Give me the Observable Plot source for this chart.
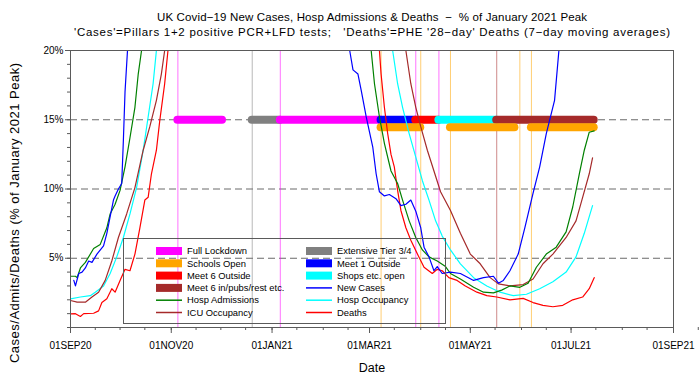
<!DOCTYPE html>
<html><head><meta charset="utf-8">
<script src="https://cdn.jsdelivr.net/npm/d3@7"></script>
<script src="https://cdn.jsdelivr.net/npm/@observablehq/plot@0.6"></script>
<style>body{margin:0;background:#fff}#chart{width:700px;height:380px}</style>
</head><body><div id="chart"></div>
<script>
// ---------- DATA (% of January 2021 peak) ----------
const titleText = "UK Covid\u221219 New Cases, Hosp Admissions & Deaths  \u2212  % of January 2021 Peak";
const subtitleText = "'Cases'=Pillars 1+2 positive PCR+LFD tests;   'Deaths'=PHE '28\u2212day' Deaths (7\u2212day moving averages)";
const yLabel = "Cases/Admits/Deaths (% of January 2021 Peak)";
const xLabel = "Date";

const majorTickDates = ["2020-09-01","2020-11-01","2021-01-01","2021-03-01","2021-05-01","2021-07-01","2021-09-01"];
const yTickValues = [5, 10, 15, 20];
const gridLevels = [5, 10, 15];

const newCases = [["2020-09-03",3.4],["2020-09-04",3.0],["2020-09-06",3.9],["2020-09-08",4.0],["2020-09-10",4.3],["2020-09-12",4.8],["2020-09-14",4.7],["2020-09-17",5.3],["2020-09-21",5.9],["2020-09-23",6.8],["2020-09-25",8.0],["2020-09-27",9.2],["2020-09-28",9.5],["2020-09-30",10.0],["2020-10-02",10.4],["2020-10-03",13.5],["2020-10-04",17.0],["2020-10-06",21],["2020-10-10",28],["2020-10-20",45],["2020-11-01",60],["2020-11-12",68],["2020-11-25",45],["2020-12-05",38],["2020-12-15",55],["2020-12-29",95],["2021-01-08",100],["2021-01-20",70],["2021-02-01",45],["2021-02-10",28],["2021-02-17",20],["2021-02-19",18.6],["2021-02-22",18.3],["2021-02-24",17.1],["2021-02-27",15.2],["2021-03-03",13.0],["2021-03-05",11.1],["2021-03-07",9.8],["2021-03-10",9.5],["2021-03-13",9.6],["2021-03-17",9.3],["2021-03-20",8.8],["2021-03-23",8.9],["2021-03-26",9.2],["2021-03-29",8.4],["2021-04-01",7.2],["2021-04-03",5.8],["2021-04-06",5.1],["2021-04-09",4.1],["2021-04-11",4.4],["2021-04-14",3.9],["2021-04-19",4.0],["2021-04-25",3.9],["2021-05-03",3.4],["2021-05-09",3.6],["2021-05-15",3.7],["2021-05-18",3.2],["2021-05-21",3.4],["2021-05-25",4.1],["2021-05-30",5.3],["2021-06-03",7.2],["2021-06-08",9.7],["2021-06-12",11.6],["2021-06-16",14.0],["2021-06-21",16.4],["2021-06-24",20.5],["2021-07-01",27],["2021-07-10",38],["2021-07-17",45]];

const hospAdmissions = [["2020-09-01",3.7],["2020-09-04",3.7],["2020-09-05",3.6],["2020-09-07",4.3],["2020-09-10",4.7],["2020-09-15",5.7],["2020-09-19",6.0],["2020-09-23",7.2],["2020-09-25",8.2],["2020-09-28",8.9],["2020-10-01",9.9],["2020-10-04",11.6],["2020-10-07",13.7],["2020-10-10",15.9],["2020-10-12",18.3],["2020-10-14",20],["2020-10-25",30],["2020-11-10",50],["2020-11-25",52],["2020-12-10",50],["2020-12-25",75],["2021-01-10",100],["2021-01-25",75],["2021-02-10",45],["2021-02-25",25],["2021-03-02",20],["2021-03-04",17.6],["2021-03-07",15.2],["2021-03-10",13.3],["2021-03-14",11.3],["2021-03-18",10.4],["2021-03-21",9.2],["2021-03-25",7.7],["2021-03-29",6.5],["2021-04-02",5.6],["2021-04-06",5.1],["2021-04-11",4.8],["2021-04-16",4.4],["2021-04-19",3.9],["2021-04-25",3.5],["2021-05-03",2.9],["2021-05-09",2.55],["2021-05-15",2.5],["2021-05-20",2.7],["2021-05-25",3.0],["2021-05-31",2.9],["2021-06-05",3.2],["2021-06-10",4.35],["2021-06-16",5.3],["2021-06-22",5.8],["2021-06-28",6.9],["2021-07-02",8.7],["2021-07-06",11.1],["2021-07-09",12.8],["2021-07-12",14.1],["2021-07-15",14.2]];

const hospOccupancy = [["2020-09-01",2.07],["2020-09-07",2.2],["2020-09-13",2.3],["2020-09-16",2.55],["2020-09-21",3.0],["2020-09-25",3.9],["2020-09-29",5.1],["2020-10-03",6.5],["2020-10-07",8.2],["2020-10-11",10.1],["2020-10-15",12.8],["2020-10-18",15.2],["2020-10-21",17.6],["2020-10-23",20],["2020-11-05",30],["2020-11-20",45],["2020-12-05",42],["2020-12-20",60],["2021-01-05",90],["2021-01-18",100],["2021-02-01",80],["2021-02-15",50],["2021-03-01",30],["2021-03-15",20],["2021-03-18",17.6],["2021-03-21",15.9],["2021-03-25",14.0],["2021-03-29",12.3],["2021-04-02",10.6],["2021-04-06",9.2],["2021-04-10",7.7],["2021-04-14",6.6],["2021-04-19",5.6],["2021-04-25",4.6],["2021-05-03",3.6],["2021-05-11",3.0],["2021-05-19",2.55],["2021-05-27",2.3],["2021-06-04",2.4],["2021-06-12",2.8],["2021-06-20",3.3],["2021-06-28",4.0],["2021-07-04",5.1],["2021-07-09",6.8],["2021-07-12",8.0],["2021-07-14",8.8]];

const icuOccupancy = [["2020-09-01",1.95],["2020-09-05",1.83],["2020-09-10",1.83],["2020-09-14",2.2],["2020-09-18",2.55],["2020-09-22",3.4],["2020-09-26",4.8],["2020-09-30",6.5],["2020-10-05",8.2],["2020-10-10",10.1],["2020-10-15",12.8],["2020-10-19",14.5],["2020-10-23",16.4],["2020-10-26",18.3],["2020-10-28",20],["2020-11-10",32],["2020-11-25",42],["2020-12-10",40],["2020-12-25",60],["2021-01-10",90],["2021-01-22",100],["2021-02-05",80],["2021-02-20",50],["2021-03-05",35],["2021-03-15",26],["2021-03-23",20],["2021-03-26",17.6],["2021-03-29",15.9],["2021-04-01",14.5],["2021-04-05",12.8],["2021-04-09",11.3],["2021-04-13",9.8],["2021-04-19",8.45],["2021-04-25",6.8],["2021-05-01",5.3],["2021-05-07",4.6],["2021-05-13",3.6],["2021-05-18",3.15],["2021-05-25",3.0],["2021-06-02",3.1],["2021-06-08",3.5],["2021-06-14",4.6],["2021-06-20",5.3],["2021-06-28",6.5],["2021-07-04",7.7],["2021-07-08",9.4],["2021-07-12",11.1],["2021-07-14",12.25]];

const deaths = [["2020-09-01",0.99],["2020-09-04",1.0],["2020-09-07",0.8],["2020-09-09",1.0],["2020-09-15",1.03],["2020-09-18",1.2],["2020-09-20",1.8],["2020-09-23",2.07],["2020-09-26",2.8],["2020-09-28",2.55],["2020-10-01",3.4],["2020-10-04",4.2],["2020-10-07",4.1],["2020-10-10",5.3],["2020-10-13",7.2],["2020-10-16",9.2],["2020-10-18",9.4],["2020-10-20",11.1],["2020-10-23",12.8],["2020-10-25",14.9],["2020-10-28",17.6],["2020-10-30",20],["2020-11-10",35],["2020-11-25",50],["2020-12-10",45],["2020-12-28",60],["2021-01-10",85],["2021-01-22",100],["2021-02-05",75],["2021-02-20",40],["2021-03-03",25],["2021-03-07",20],["2021-03-08",18.3],["2021-03-10",15.9],["2021-03-12",14.0],["2021-03-14",12.5],["2021-03-16",11.6],["2021-03-18",9.9],["2021-03-20",8.45],["2021-03-23",7.2],["2021-03-26",6.3],["2021-03-30",5.3],["2021-04-03",4.35],["2021-04-08",3.9],["2021-04-11",4.2],["2021-04-14",4.1],["2021-04-18",3.6],["2021-04-23",3.4],["2021-04-28",3.0],["2021-05-05",2.55],["2021-05-11",2.3],["2021-05-17",2.2],["2021-05-25",2.0],["2021-06-02",2.1],["2021-06-08",1.8],["2021-06-14",1.6],["2021-06-20",1.5],["2021-06-26",1.6],["2021-07-02",2.0],["2021-07-08",2.2],["2021-07-12",2.8],["2021-07-15",3.6]];

// restriction phases (bars at the 15% level) and school terms (just below)
const phaseNames  = ["Full Lockdown","Extensive Tier 3/4","Full Lockdown","Meet 1 Outside","Meet 6 Outside","Shops etc. open","Meet 6 in/pubs/rest etc."];
const phaseStarts = ["2020-11-05","2020-12-20","2021-01-06","2021-03-08","2021-03-29","2021-04-12","2021-05-17"];
const phaseEnds   = ["2020-12-02","2021-01-06","2021-03-08","2021-03-29","2021-04-12","2021-05-17","2021-07-15"];
const phaseLevel = 15;
const schoolStarts = ["2021-03-08","2021-04-19","2021-06-07"];
const schoolEnds   = ["2021-04-01","2021-05-28","2021-07-15"];
const schoolLevel = 14.45;

const eventDates = ["2020-11-05","2020-12-20","2021-01-06","2021-03-08","2021-03-29","2021-04-01","2021-04-12","2021-04-19","2021-05-17","2021-05-31","2021-06-07"];
const eventKinds = ["Full Lockdown","Extensive Tier 3/4","Full Lockdown","Schools Open","Full Lockdown","Schools Open","Full Lockdown","Schools Open","Meet 6 in/pubs/rest etc.","Schools Open","Schools Open"];

// ---------- STYLE ----------
const palette = {
  "Full Lockdown":"#ff00ff","Extensive Tier 3/4":"#808080","Schools Open":"#ffa500",
  "Meet 1 Outside":"#0000ff","Meet 6 Outside":"#ff0000","Shops etc. open":"#00ffff",
  "Meet 6 in/pubs/rest etc.":"#a52a2a","New Cases":"#0000ff","Hosp Admissions":"#008000",
  "Hosp Occupancy":"#00ffff","ICU Occupancy":"#a52a2a","Deaths":"#ff0000"
};
const FONT = "'Liberation Sans', Arial, Helvetica, sans-serif";
const parse = d3.utcParse("%Y-%m-%d");
const fmt = d => d3.utcFormat("%d%b%y")(d).toUpperCase();
const toRows = arr => arr.map(([d, v]) => ({date: parse(d), value: v}));

const phases = phaseNames.map((n, i) => ({name: n, start: parse(phaseStarts[i]), end: parse(phaseEnds[i]), level: phaseLevel}));
const schools = schoolStarts.map((s, i) => ({name: "Schools Open", start: parse(s), end: parse(schoolEnds[i]), level: schoolLevel}));
const events = eventDates.map((d, i) => ({date: parse(d), kind: eventKinds[i]}));

const majorTicks = majorTickDates.map(parse);
const minorTicks = [];
for (let m = d3.utcMonth.floor(parse("2020-09-01")); m <= parse("2021-09-01"); m = d3.utcMonth.offset(m, 1)) {
  minorTicks.push(m, d3.utcDay.offset(m, 15));
}
const yMinor = d3.range(0, 21);

const lineSeries = [
  ["Hosp Occupancy", hospOccupancy], ["ICU Occupancy", icuOccupancy], ["Deaths", deaths],
  ["Hosp Admissions", hospAdmissions], ["New Cases", newCases]
];

const plot = Plot.plot({
  width: 700, height: 380,
  marginTop: 50, marginBottom: 53, marginLeft: 70, marginRight: 27,
  style: {fontFamily: FONT, fontSize: "10px", background: "#fff", color: "#000"},
  x: {type: "utc", domain: [parse("2020-09-01"), parse("2021-09-01")]},
  y: {domain: [0, 20]},
  marks: [
    Plot.ruleY(gridLevels, {stroke: "#6a6a6a", strokeDasharray: "7,4", strokeWidth: 1}),
    Plot.ruleX(events, {x: "date", stroke: d => palette[d.kind], strokeOpacity: 0.55, strokeWidth: 1}),
    Plot.ruleY(phases, {y: "level", x1: "start", x2: "end", stroke: d => palette[d.name], strokeWidth: 8, strokeLinecap: "round"}),
    Plot.ruleY(schools, {y: "level", x1: "start", x2: "end", stroke: d => palette[d.name], strokeWidth: 8, strokeLinecap: "round"}),
    ...lineSeries.map(([name, arr]) => Plot.line(toRows(arr), {x: "date", y: "value", stroke: palette[name], strokeWidth: 1.2, clip: true})),
    Plot.frame({stroke: "#5a5a5a"}),
    Plot.axisX({ticks: majorTicks, tickFormat: fmt, tickSize: 6, tickPadding: 8, stroke: "#5a5a5a", fill: "#000", label: null, fontSize: 10}),
    Plot.axisX({ticks: minorTicks, tickFormat: () => "", tickSize: 3, stroke: "#5a5a5a", label: null}),
    Plot.axisY({ticks: yTickValues, tickFormat: d => d + "%", tickSize: 5, tickPadding: 2, stroke: "#5a5a5a", fill: "#000", label: null, fontSize: 10}),
    Plot.axisY({ticks: yMinor, tickFormat: () => "", tickSize: 3, stroke: "#5a5a5a", label: null}),
    Plot.text([titleText], {text: d => d, frameAnchor: "top", dy: -38, fontSize: 11.5, fill: "#000"}),
    Plot.text([subtitleText], {text: d => d, frameAnchor: "top", dy: -23, fontSize: 11.5, fill: "#000"}),
    Plot.text([xLabel], {text: d => d, frameAnchor: "bottom", dy: 44, fontSize: 12.5, fill: "#000"}),
    Plot.text([yLabel], {text: d => d, frameAnchor: "left", textAnchor: "middle", dx: -56, dy: 24, rotate: -90, fontSize: 13, fill: "#000"})
  ]
});

const svg = d3.select(plot);
// stretch the text spacing to match the reference's wide (SAS) font metrics
const stretch = {[titleText]: 430, [subtitleText]: 596, [yLabel]: 300};
svg.selectAll("text").each(function () {
  const L = stretch[this.textContent];
  if (L) d3.select(this).attr("textLength", L).attr("lengthAdjust", "spacing");
});

// ---------- LEGEND (inside the plot, transparent box) ----------
const legendItems = [
  ["Full Lockdown","bar"],["Extensive Tier 3/4","bar"],
  ["Schools Open","bar"],["Meet 1 Outside","bar"],
  ["Meet 6 Outside","bar"],["Shops etc. open","bar"],
  ["Meet 6 in/pubs/rest etc.","bar"],["New Cases","line"],
  ["Hosp Admissions","line"],["Hosp Occupancy","line"],
  ["ICU Occupancy","line"],["Deaths","line"]
];
const lg = svg.append("g").attr("font-family", FONT).attr("font-size", 9.4).attr("text-anchor", "start");
lg.append("rect").attr("x", 123.5).attr("y", 238.5).attr("width", 322).attr("height", 85)
  .attr("fill", "none").attr("stroke", "#5a5a5a");
legendItems.forEach(([name, kind], i) => {
  const col = i % 2, row = Math.floor(i / 2);
  const x0 = col ? 306 : 156, y0 = 251 + row * 12.3;
  if (kind === "bar") {
    lg.append("rect").attr("x", x0).attr("y", y0 - 4).attr("width", 26).attr("height", 8).attr("fill", palette[name]);
  } else {
    lg.append("line").attr("x1", x0).attr("x2", x0 + 26).attr("y1", y0).attr("y2", y0)
      .attr("stroke", palette[name]).attr("stroke-width", 1.5);
  }
  lg.append("text").attr("x", x0 + 31).attr("y", y0).attr("dy", "0.35em").attr("fill", "#000").text(name);
});

document.getElementById("chart").appendChild(plot);
</script>
</body></html>
